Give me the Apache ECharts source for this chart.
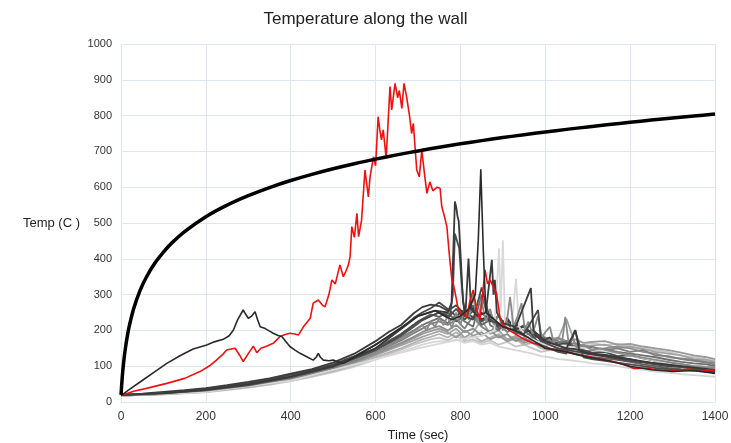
<!DOCTYPE html>
<html>
<head>
<meta charset="utf-8">
<script src="https://cdn.jsdelivr.net/npm/echarts@6/dist/echarts.min.js"></script>
<style>html,body{margin:0;padding:0;background:#fff;}#c{width:731px;height:443px;}</style>
</head>
<body>
<div id="c"></div>
<script>
// ---- Data ----
const X_TICKS = [0, 200, 400, 600, 800, 1000, 1200, 1400];
const Y_TICKS = [0, 100, 200, 300, 400, 500, 600, 700, 800, 900, 1000];

// Standard fire curve (thick black)
const FIRE_T = [0, 3, 6, 10, 15, 20, 30, 45, 60, 80, 100, 120, 150, 200, 250, 300, 350, 400, 450, 500, 550, 600, 650, 700, 750, 800, 850, 900, 950, 1000, 1050, 1100, 1150, 1200, 1250, 1300, 1350, 1400];
const FIRE_V = [20, 70.4, 108.1, 147.0, 184.6, 214.7, 261.1, 311.6, 349.2, 388.1, 418.9, 444.5, 476.2, 517.5, 549.8, 576.4, 599.0, 618.6, 635.9, 651.5, 665.6, 678.4, 690.3, 701.3, 711.5, 721.1, 730.1, 738.6, 746.6, 754.2, 761.5, 768.4, 775.0, 781.3, 787.5, 793.3, 798.9, 804.3];

// Red sensor
const RED_T = [0, 30, 60, 108, 150, 186, 210, 225, 240, 249, 260, 269, 280, 288, 300, 312, 320, 330, 343, 360, 375, 385, 398, 410, 418, 430, 446, 453, 465, 475, 481, 490, 497, 505, 516, 524, 530, 536, 540, 544, 550, 556, 560, 567, 575, 583, 587, 595, 600, 606, 610, 614, 618, 625, 634, 638, 646, 652, 656, 662, 667, 673, 680, 685, 689, 697, 703, 709, 715, 721, 728, 735, 745, 752, 756, 762, 768, 775, 780, 783, 790, 795, 805, 815, 822, 830, 838, 846, 852, 858, 864, 870, 878, 885, 893, 900, 915, 930, 950, 970, 988, 1000, 1027, 1050, 1075, 1098, 1130, 1160, 1185, 1208, 1240, 1260, 1286, 1320, 1340, 1365, 1385, 1400];
const RED_V = [18, 30, 38, 52, 66, 85, 102, 117, 133, 145, 148, 150, 130, 113, 135, 156, 138, 150, 156, 165, 183, 188, 192, 190, 187, 210, 234, 276, 285, 270, 266, 300, 341, 330, 383, 350, 365, 383, 406, 490, 460, 527, 462, 508, 648, 573, 629, 685, 660, 797, 760, 732, 760, 681, 881, 816, 890, 850, 870, 820, 890, 853, 800, 750, 778, 648, 629, 704, 640, 583, 615, 590, 600, 597, 546, 520, 490, 397, 340, 331, 290, 257, 245, 238, 280, 313, 260, 229, 300, 369, 330, 341, 320, 304, 238, 215, 200, 190, 175, 165, 159, 150, 145, 140, 132, 127, 120, 113, 105, 94, 95, 90, 89, 88, 92, 85, 90, 87];

// Dark sensor with early peak and spike near 850 s
const DARK_T = [0, 20, 50, 80, 108, 140, 170, 202, 220, 241, 255, 265, 275, 288, 294, 300, 308, 316, 322, 328, 340, 350, 359, 370, 379, 388, 398, 410, 422, 440, 453, 460, 465, 470, 477, 490, 500, 512, 524, 550, 600, 650, 700, 740, 780, 800, 820, 835, 842, 848, 854, 860, 880, 900, 930, 960, 1000, 1050, 1100, 1150, 1200, 1250, 1300, 1350, 1400];
const DARK_V = [18, 35, 60, 85, 108, 130, 148, 159, 168, 175, 185, 201, 230, 257, 245, 234, 240, 252, 230, 210, 205, 198, 192, 186, 183, 170, 155, 145, 136, 125, 117, 125, 136, 125, 117, 115, 117, 112, 108, 125, 160, 200, 240, 255, 230, 240, 260, 300, 450, 650, 420, 250, 230, 210, 200, 180, 150, 140, 125, 115, 100, 90, 85, 88, 80];

// Dark gray sensors with spikes near 790 s
const SPK1_T = [0, 100, 200, 300, 400, 500, 600, 650, 700, 740, 770, 779, 784, 787, 790, 793, 796, 800, 806, 812, 819, 825, 840, 860, 874, 878, 881, 886, 900, 930, 966, 972, 1000, 1050, 1071, 1080, 1100, 1150, 1250, 1400];
const SPK1_V = [19, 25, 34, 49, 71, 101, 150, 195, 240, 255, 250, 276, 450, 560, 545, 520, 505, 420, 280, 250, 401, 260, 240, 250, 397, 300, 341, 250, 220, 210, 318, 200, 170, 150, 201, 145, 135, 128, 110, 90];
const SPK2_T = [0, 100, 200, 300, 400, 500, 600, 650, 700, 750, 775, 782, 787, 792, 797, 803, 810, 830, 850, 870, 900, 950, 983, 990, 1030, 1100, 1200, 1300, 1400];
const SPK2_V = [19, 24, 33, 47, 69, 98, 145, 180, 225, 250, 240, 300, 470, 450, 430, 330, 240, 230, 320, 230, 210, 190, 257, 170, 150, 135, 115, 100, 88];
// Mid gray sensor, jagged
const SPK3_T = [0, 100, 200, 300, 400, 500, 600, 650, 700, 710, 720, 730, 740, 750, 760, 770, 780, 790, 800, 810, 820, 830, 840, 850, 860, 870, 880, 890, 900, 910, 917, 925, 935, 944, 952, 960, 970, 983, 992, 1000, 1011, 1020, 1030, 1040, 1047, 1055, 1065, 1075, 1090, 1110, 1130, 1160, 1200, 1250, 1300, 1350, 1400];
const SPK3_V = [19, 24, 32, 46, 67, 95, 140, 170, 205, 215, 200, 225, 210, 235, 215, 240, 205, 250, 215, 260, 230, 299, 220, 280, 225, 260, 215, 245, 200, 230, 294, 210, 240, 276, 200, 225, 190, 240, 180, 195, 210, 165, 180, 170, 238, 165, 175, 150, 160, 145, 150, 140, 130, 120, 110, 100, 95];
// Light gray sensor with spikes near 900 s
const SPKL_T = [0, 200, 400, 600, 700, 760, 800, 850, 880, 891, 895, 900, 905, 920, 931, 938, 960, 1000, 1100, 1200, 1300, 1400];
const SPKL_V = [18, 28, 60, 120, 150, 165, 175, 185, 200, 429, 250, 452, 220, 200, 345, 210, 180, 160, 150, 130, 105, 95];

// Common time base of the gray bundle
const BUNDLE_T = [0, 50, 100, 150, 200, 250, 300, 350, 400, 450, 500, 550, 600, 630, 660, 690, 710, 730, 750, 770, 790, 810, 830, 850, 870, 890, 910, 930, 950, 970, 990, 1010, 1030, 1050, 1070, 1090, 1110, 1140, 1170, 1200, 1230, 1260, 1290, 1320, 1350, 1380, 1400];
const G1 = [20, 23, 28, 33, 39, 47, 56, 66, 79, 92, 110, 135, 170, 195, 215, 248, 265, 272, 268, 255, 270, 245, 262, 230, 245, 215, 230, 205, 210, 190, 175, 165, 158, 150, 148, 140, 135, 132, 125, 120, 112, 105, 100, 98, 95, 90, 85];
const G2 = [20, 22, 26, 31, 37, 44, 53, 63, 76, 89, 105, 128, 160, 182, 205, 235, 250, 262, 278, 260, 240, 258, 235, 250, 225, 240, 210, 220, 195, 200, 170, 180, 160, 165, 150, 145, 138, 140, 128, 130, 122, 115, 110, 105, 100, 98, 95];
const G3 = [19, 21, 25, 29, 34, 41, 49, 59, 71, 84, 100, 122, 150, 170, 190, 215, 232, 245, 238, 250, 225, 240, 270, 215, 230, 205, 215, 195, 185, 175, 160, 150, 145, 140, 135, 130, 126, 122, 118, 112, 105, 100, 95, 92, 90, 88, 84];
const G4 = [19, 21, 24, 28, 33, 40, 48, 58, 70, 83, 98, 118, 145, 162, 180, 200, 215, 225, 235, 220, 245, 225, 210, 300, 215, 200, 225, 190, 200, 180, 185, 170, 165, 170, 155, 158, 150, 148, 140, 135, 130, 125, 118, 112, 108, 105, 100];
const G5 = [19, 21, 24, 28, 32, 39, 47, 57, 68, 81, 96, 115, 140, 155, 172, 192, 205, 218, 225, 215, 230, 205, 240, 210, 195, 220, 195, 210, 185, 195, 175, 180, 170, 160, 165, 150, 155, 145, 150, 140, 145, 130, 128, 120, 115, 110, 105];
const G6 = [18, 20, 23, 27, 31, 38, 45, 55, 66, 78, 93, 112, 135, 150, 165, 182, 195, 205, 212, 200, 215, 195, 205, 185, 200, 180, 190, 170, 180, 165, 155, 160, 150, 145, 150, 140, 145, 150, 155, 150, 140, 135, 125, 122, 118, 112, 110];
const G7 = [18, 20, 23, 26, 30, 36, 43, 52, 63, 75, 90, 108, 130, 145, 158, 172, 182, 190, 198, 190, 205, 180, 195, 230, 190, 200, 175, 185, 170, 178, 190, 170, 175, 232, 165, 155, 158, 160, 150, 155, 148, 140, 135, 130, 120, 118, 112];
const G8 = [18, 20, 22, 25, 29, 35, 42, 50, 61, 73, 87, 104, 125, 138, 150, 165, 175, 182, 190, 180, 195, 175, 185, 170, 180, 190, 170, 175, 160, 165, 150, 145, 150, 140, 142, 135, 132, 128, 125, 118, 112, 108, 104, 100, 98, 95, 92];
const G9 = [18, 20, 22, 25, 28, 34, 41, 49, 59, 71, 85, 101, 122, 134, 146, 160, 168, 175, 180, 172, 185, 170, 175, 165, 172, 160, 168, 155, 160, 150, 140, 145, 148, 150, 158, 160, 165, 158, 162, 155, 150, 145, 140, 130, 125, 118, 115];
const G10 = [18, 19, 21, 24, 27, 33, 40, 48, 58, 70, 83, 98, 118, 130, 140, 152, 160, 166, 170, 168, 175, 165, 170, 160, 165, 155, 150, 145, 140, 135, 128, 125, 120, 118, 115, 112, 108, 105, 100, 95, 90, 85, 82, 78, 75, 72, 70];
const G11 = [19, 21, 24, 28, 33, 40, 48, 57, 69, 82, 98, 118, 145, 165, 185, 210, 228, 240, 250, 235, 260, 230, 255, 225, 240, 210, 235, 200, 215, 185, 160, 150, 140, 135, 200, 125, 120, 115, 110, 105, 100, 95, 92, 90, 88, 85, 82];
const G12 = [18, 20, 23, 27, 31, 37, 44, 53, 64, 77, 92, 110, 133, 148, 162, 178, 190, 198, 205, 195, 180, 200, 185, 195, 175, 185, 170, 180, 165, 172, 168, 175, 180, 170, 175, 165, 168, 170, 160, 162, 155, 150, 145, 138, 130, 125, 120];

const BUNDLE = [G10, G9, G8, G7, G12, G6, G5, G4, G3, G11, G2, G1];
const BUNDLE_COLORS = ['#d6d6d6', '#c4c4c4', '#b3b3b3', '#a3a3a3', '#9a9a9a', '#8e8e8e', '#7f7f7f', '#6f6f6f', '#606060', '#4f4f4f', '#484848', '#3c3c3c'];

// ---- Chart ----
const pairs = (t, v) => t.map((x, i) => [x, v[i]]);
const series = [];
BUNDLE.forEach((v, i) => {
  series.push({ type: 'line', data: pairs(BUNDLE_T, v), showSymbol: false, lineStyle: { width: 1.8, color: BUNDLE_COLORS[i] }, itemStyle: { color: BUNDLE_COLORS[i] } });
});
series.push({ type: 'line', data: pairs(SPKL_T, SPKL_V), showSymbol: false, lineStyle: { width: 1.8, color: '#d9d9d9' } });
series.push({ type: 'line', data: pairs(SPK3_T, SPK3_V), showSymbol: false, lineStyle: { width: 1.8, color: '#8a8a8a' } });
series.push({ type: 'line', data: pairs(SPK2_T, SPK2_V), showSymbol: false, lineStyle: { width: 1.8, color: '#4a4a4a' } });
series.push({ type: 'line', data: pairs(SPK1_T, SPK1_V), showSymbol: false, lineStyle: { width: 1.8, color: '#3a3a3a' } });
series.push({ type: 'line', data: pairs(RED_T, RED_V), showSymbol: false, lineStyle: { width: 1.6, color: '#ee1111' } });
series.push({ type: 'line', data: pairs(DARK_T, DARK_V), showSymbol: false, lineStyle: { width: 1.6, color: '#2a2a2a' } });
series.push({ type: 'line', data: pairs(FIRE_T, FIRE_V), showSymbol: false, smooth: 0.3, lineStyle: { width: 3.5, color: '#000' } });

const gridColor = '#dbe7f3';
const plain = v => String(v);
const chart = echarts.init(document.getElementById('c'), null, { renderer: 'canvas' });
chart.setOption({
  animation: false,
  backgroundColor: '#fff',
  title: {
    text: 'Temperature along the wall',
    left: 'center', top: 6,
    textStyle: { fontFamily: 'Liberation Sans', fontSize: 17, fontWeight: 'normal', color: '#222' }
  },
  grid: { left: 121, right: 16, top: 44, bottom: 41, outerBoundsMode: 'none', containLabel: false },
  xAxis: {
    type: 'value', min: X_TICKS[0], max: X_TICKS[X_TICKS.length - 1], interval: 200,
    name: 'Time (sec)', nameLocation: 'middle', nameGap: 27,
    nameTextStyle: { fontFamily: 'Liberation Sans', fontSize: 13, color: '#222' },
    axisLine: { lineStyle: { color: gridColor } },
    axisTick: { show: false },
    axisLabel: { fontFamily: 'Liberation Sans', fontSize: 12, color: '#333', margin: 9, formatter: plain },
    splitLine: { show: true, lineStyle: { color: gridColor, width: 1 } }
  },
  yAxis: {
    type: 'value', min: Y_TICKS[0], max: Y_TICKS[Y_TICKS.length - 1], interval: 100,
    name: 'Temp (C )', nameLocation: 'middle', nameRotate: 0, nameGap: 41,
    nameTextStyle: { fontFamily: 'Liberation Sans', fontSize: 13, color: '#222', align: 'right' },
    axisLine: { show: true, lineStyle: { color: gridColor } },
    axisTick: { show: false },
    axisLabel: { fontFamily: 'Liberation Sans', fontSize: 11, color: '#333', margin: 9, formatter: plain },
    splitLine: { show: true, lineStyle: { color: gridColor, width: 1 } }
  },
  series: series
});
</script>
</body>
</html>
